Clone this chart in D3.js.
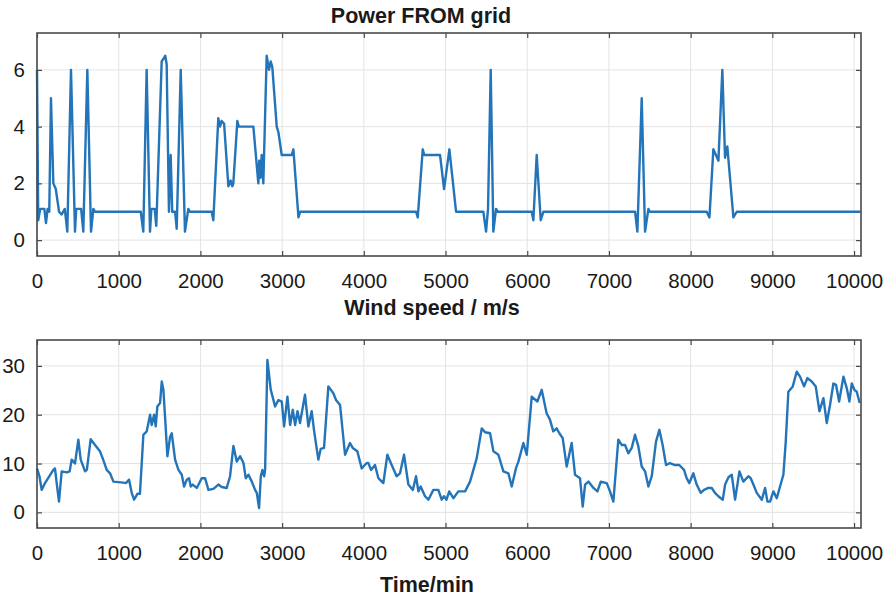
<!DOCTYPE html>
<html>
<head>
<meta charset="utf-8">
<script src="https://cdn.jsdelivr.net/npm/d3@7"></script>
<style>
  body { margin: 0; background: #fff; }
  svg text { font-family: "Liberation Sans", Arial, sans-serif; fill: #1a1a1a; }
  .grid line { stroke: #e3e3e3; stroke-width: 1; }
  .axis path { display: none; }
  .axis line { stroke: #4a4a4a; stroke-width: 1.2; }
</style>
</head>
<body>
<div id="chart"></div>
<script>
/* ── Data ─────────────────────────────────────────────────────────── */
const xTicks     = [0, 1000, 2000, 3000, 4000, 5000, 6000, 7000, 8000, 9000, 10000];
const powerTicks = [0, 2, 4, 6];
const windTicks  = [0, 10, 20, 30];

// Power FROM grid: [time/min, value]
const powerT = [0, 15, 40, 90, 110, 130, 150, 171, 200, 230, 270, 300, 340, 371, 416, 465, 480, 540, 567, 616,
  661, 690, 710, 1270, 1301, 1342, 1383, 1400, 1440, 1460, 1526, 1550, 1570, 1587, 1615, 1636, 1655, 1690, 1710, 1759,
  1811, 1852, 1870, 2138, 2158, 2219, 2240, 2260, 2290, 2342, 2370, 2390, 2403, 2452, 2470, 2648, 2709, 2720, 2735, 2750,
  2770, 2811, 2840, 2860, 2880, 2934, 2955, 2995, 3118, 3138, 3200, 3220, 4640, 4660, 4721, 4740, 4933, 4982, 5047, 5129,
  5463, 5496, 5520, 5553, 5585, 5618, 5640, 6055, 6075, 6116, 6165, 6198, 7320, 7348, 7401, 7442, 7483, 7500, 8197, 8230,
  8278, 8310, 8340, 8388, 8421, 8449, 8523, 8564, 10080];
const powerV = [6.0, 0.7, 1.1, 1.1, 0.6, 1.1, 1.0, 5.0, 2.0, 1.8, 1.0, 0.9, 1.1, 0.3, 6.0, 0.3, 1.1, 1.1, 0.3, 6.0,
  0.3, 1.1, 1.0, 1.0, 0.3, 6.0, 0.3, 1.1, 1.1, 0.5, 6.3, 6.4, 6.5, 6.2, 1.0, 3.0, 1.0, 1.0, 0.4, 6.0,
  0.3, 1.1, 1.0, 1.0, 0.7, 4.3, 4.0, 4.2, 4.1, 1.9, 2.1, 1.9, 2.0, 4.2, 4.0, 4.0, 2.0, 2.8, 2.2, 3.0,
  2.0, 6.5, 6.0, 6.3, 6.1, 4.0, 3.8, 3.0, 3.0, 3.2, 0.8, 1.0, 1.0, 0.8, 3.2, 3.0, 3.0, 1.8, 3.2, 1.0,
  1.0, 0.3, 1.1, 6.0, 0.3, 1.1, 1.0, 1.0, 0.7, 3.0, 0.7, 1.0, 1.0, 0.3, 5.0, 0.3, 1.1, 1.0, 1.0, 0.8,
  3.2, 3.0, 2.8, 6.0, 2.9, 3.3, 0.8, 1.0, 1.0];

// Wind speed / m/s: [time/min, value]
const windT = [0, 30, 57, 98, 200, 220, 241, 269, 302, 363, 400, 424, 465, 506, 535, 588, 610, 657, 710, 771,
  810, 853, 894, 935, 1057, 1090, 1127, 1159, 1188, 1229, 1260, 1302, 1343, 1384, 1404, 1433, 1453, 1473, 1506, 1527,
  1547, 1567, 1596, 1629, 1649, 1690, 1731, 1772, 1800, 1833, 1861, 1882, 1906, 1955, 2016, 2057, 2098, 2159, 2220, 2261,
  2322, 2363, 2404, 2445, 2486, 2527, 2555, 2588, 2629, 2669, 2690, 2718, 2739, 2759, 2780, 2792, 2820, 2861, 2914, 2955,
  2996, 3024, 3065, 3098, 3131, 3159, 3188, 3219, 3280, 3321, 3362, 3390, 3443, 3472, 3513, 3566, 3627, 3660, 3709, 3770,
  3831, 3864, 3921, 3974, 4035, 4056, 4088, 4137, 4178, 4239, 4288, 4341, 4402, 4443, 4492, 4545, 4600, 4639, 4668, 4696,
  4749, 4790, 4851, 4912, 4953, 4981, 5012, 5045, 5096, 5157, 5239, 5300, 5382, 5443, 5484, 5545, 5586, 5647, 5708, 5769,
  5810, 5863, 5892, 5953, 5994, 6055, 6124, 6177, 6237, 6278, 6319, 6360, 6393, 6434, 6483, 6544, 6585, 6646, 6679, 6708,
  6749, 6810, 6859, 6900, 6973, 7013, 7054, 7115, 7156, 7197, 7238, 7279, 7319, 7360, 7401, 7442, 7483, 7524, 7576, 7617,
  7657, 7699, 7747, 7808, 7861, 7919, 7951, 7984, 8033, 8074, 8123, 8164, 8217, 8258, 8298, 8339, 8393, 8422, 8463, 8503,
  8544, 8597, 8645, 8707, 8735, 8768, 8809, 8871, 8911, 8940, 8972, 9013, 9054, 9094, 9135, 9164, 9196, 9250, 9298, 9339,
  9388, 9429, 9482, 9531, 9576, 9625, 9666, 9706, 9747, 9780, 9817, 9870, 9911, 9943, 9972, 10004, 10033, 10069];
const windV = [9.0, 7.4, 4.6, 6.0, 8.7, 9.0, 6.0, 2.2, 8.4, 8.2, 8.4, 10.8, 10.0, 14.9, 10.8, 8.4, 8.7, 15.0, 13.8, 12.5,
  10.8, 8.7, 8.0, 6.3, 6.1, 6.0, 6.7, 4.0, 2.6, 3.8, 3.8, 15.9, 16.6, 20.0, 17.9, 20.0, 17.6, 21.7, 22.4, 26.8,
  25.1, 19.6, 11.5, 15.5, 16.2, 10.8, 8.7, 7.7, 5.3, 6.7, 7.0, 5.3, 5.7, 5.0, 7.0, 7.0, 4.6, 4.8, 5.7, 5.2,
  5.0, 7.4, 13.6, 10.4, 11.5, 10.1, 7.0, 7.7, 6.3, 4.6, 4.0, 0.9, 7.4, 8.7, 7.4, 8.7, 31.2, 25.1, 21.7, 23.0,
  22.7, 17.6, 23.7, 17.9, 21.0, 17.9, 20.7, 18.3, 24.1, 17.6, 20.7, 16.9, 10.8, 13.0, 13.2, 25.8, 24.4, 23.0, 22.0, 11.8,
  14.2, 13.2, 12.5, 9.0, 10.1, 10.1, 8.7, 9.7, 7.0, 6.0, 11.8, 9.7, 7.4, 8.0, 11.8, 5.7, 4.6, 7.4, 4.3, 5.3,
  3.3, 2.6, 4.6, 4.6, 2.6, 3.3, 2.6, 4.3, 2.9, 4.3, 4.3, 6.3, 11.1, 17.2, 16.4, 16.2, 12.5, 11.8, 8.4, 8.0,
  5.3, 9.1, 10.4, 14.2, 11.8, 23.7, 22.7, 25.1, 20.3, 19.0, 16.6, 17.2, 16.2, 15.2, 9.4, 14.2, 7.7, 7.0, 1.2, 5.7,
  6.3, 5.0, 4.3, 6.3, 6.0, 4.3, 2.2, 14.9, 13.8, 13.8, 12.1, 13.2, 15.9, 13.5, 9.4, 8.4, 5.3, 7.4, 14.5, 16.9,
  13.8, 9.7, 10.1, 9.7, 9.7, 8.7, 7.0, 6.0, 8.0, 5.7, 4.0, 4.6, 5.0, 5.0, 4.0, 3.3, 2.6, 5.7, 7.2, 7.7,
  2.6, 8.4, 6.3, 7.4, 7.0, 5.7, 4.0, 2.6, 5.0, 2.2, 2.2, 4.3, 2.9, 5.3, 7.7, 14.5, 24.7, 25.8, 28.8, 27.8,
  25.8, 27.5, 26.8, 25.8, 20.7, 23.4, 18.3, 22.0, 26.4, 26.1, 22.7, 27.8, 25.4, 22.7, 26.4, 25.1, 24.7, 22.4, 18.6, 20.0,
  22.0];

/* ── Layout ─────────────────────────────────────────────────────────── */
const W = 885, H = 597;
const PX0 = 37, PX1 = 861;
const LINE_CLR = '#2374b8';

const svg = d3.select('#chart').append('svg')
  .attr('width', W).attr('height', H)
  .attr('viewBox', `0 0 ${W} ${H}`);

const x = d3.scaleLinear().domain([0, 10085]).range([PX0, PX1]);

function drawPanel(opts) {
  const { top, bottom, yDomain, yTicks, ts, vs, title, titleX, titleY } = opts;
  const y = d3.scaleLinear().domain(yDomain).range([bottom, top]);
  const g = svg.append('g');

  // grid
  const grid = g.append('g').attr('class', 'grid');
  grid.selectAll('.gx').data(xTicks).join('line')
    .attr('x1', d => x(d)).attr('x2', d => x(d))
    .attr('y1', top).attr('y2', bottom);
  grid.selectAll('.gy').data(yTicks).join('line')
    .attr('x1', PX0).attr('x2', PX1)
    .attr('y1', d => y(d)).attr('y2', d => y(d));

  // series
  const pts = ts.map((t, i) => [t, vs[i]]);
  g.append('path')
    .datum(pts)
    .attr('fill', 'none')
    .attr('stroke', LINE_CLR)
    .attr('stroke-width', 2.4)
    .attr('stroke-linejoin', 'round')
    .attr('d', d3.line().x(d => x(d[0])).y(d => y(d[1])));

  // axes (inward ticks on all four sides)
  const tFont = '20.5px';
  const ax = g.append('g').attr('class', 'axis')
    .attr('transform', `translate(0,${bottom})`)
    .call(d3.axisBottom(x).tickValues(xTicks).tickFormat(d3.format('d'))
      .tickSizeInner(-5).tickSizeOuter(0).tickPadding(17));
  ax.selectAll('text').style('font-size', tFont);

  g.append('g').attr('class', 'axis')
    .attr('transform', `translate(0,${top})`)
    .call(d3.axisTop(x).tickValues(xTicks).tickFormat('').tickSizeInner(-5).tickSizeOuter(0));

  const ay = g.append('g').attr('class', 'axis')
    .attr('transform', `translate(${PX0},0)`)
    .call(d3.axisLeft(y).tickValues(yTicks).tickFormat(d3.format('d'))
      .tickSizeInner(-5).tickSizeOuter(0).tickPadding(12));
  ay.selectAll('text').style('font-size', tFont);

  g.append('g').attr('class', 'axis')
    .attr('transform', `translate(${PX1},0)`)
    .call(d3.axisRight(y).tickValues(yTicks).tickFormat('').tickSizeInner(-5).tickSizeOuter(0));

  // box
  g.append('rect')
    .attr('x', PX0).attr('y', top)
    .attr('width', PX1 - PX0).attr('height', bottom - top)
    .attr('fill', 'none').attr('stroke', '#4a4a4a').attr('stroke-width', 1.6);

  svg.append('text')
    .attr('x', titleX).attr('y', titleY)
    .attr('text-anchor', 'middle')
    .attr('font-weight', 'bold')
    .attr('font-size', '21.5px')
    .text(title);
}

drawPanel({
  top: 33, bottom: 256, yDomain: [-0.56, 7.3], yTicks: powerTicks,
  ts: powerT, vs: powerV, title: 'Power FROM grid', titleX: 421, titleY: 23
});

drawPanel({
  top: 340, bottom: 528, yDomain: [-3.2, 35.3], yTicks: windTicks,
  ts: windT, vs: windV, title: 'Wind speed / m/s', titleX: 432, titleY: 315
});

svg.append('text')
  .attr('x', 427).attr('y', 592)
  .attr('text-anchor', 'middle')
  .attr('font-weight', 'bold')
  .attr('font-size', '21.5px')
  .text('Time/min');
</script>
</body>
</html>
